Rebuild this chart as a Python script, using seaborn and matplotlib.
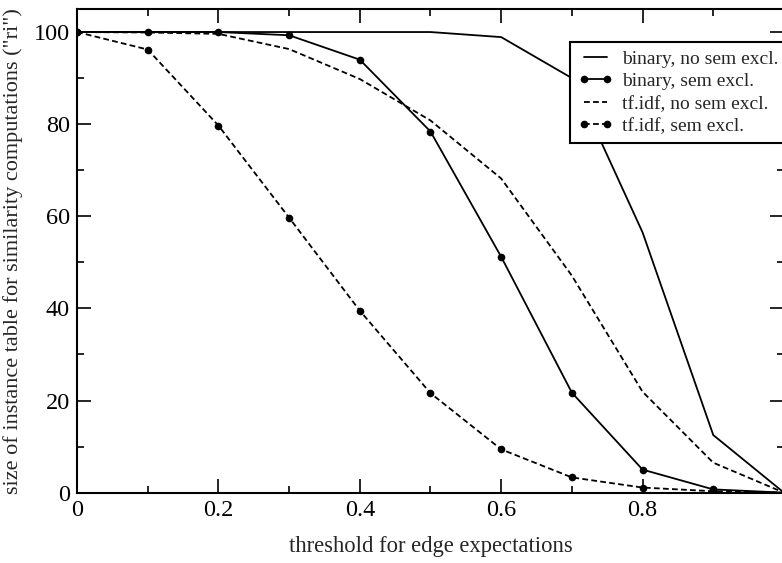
import numpy as np
import pandas as pd
import matplotlib
matplotlib.use("Agg")
import matplotlib.pyplot as plt
from matplotlib.ticker import MultipleLocator
import seaborn as sns

thresholds = [0.0, 0.1, 0.2, 0.3, 0.4, 0.5, 0.6, 0.7, 0.8, 0.9, 1.0]
binary_no_sem = [100, 100, 100, 100, 100, 100, 98.9, 90.0, 56.5, 12.5, 0.0]
binary_sem = [100, 100, 100, 99.3, 94.0, 78.4, 51.2, 21.7, 5.0, 0.7, 0.0]
tfidf_no_sem = [100, 99.9, 99.6, 96.3, 89.8, 80.8, 68.2, 47.1, 21.9, 6.5, 0.0]
tfidf_sem = [100, 96.2, 79.7, 59.7, 39.5, 21.6, 9.4, 3.3, 1.1, 0.3, 0.0]
labels = ["binary, no sem excl.", "binary, sem excl.",
          "tf.idf, no sem excl.", "tf.idf, sem excl."]

sns.set_theme(style="ticks")
plt.rcParams["font.family"] = ["Liberation Serif", "DejaVu Serif"]

fig = plt.figure(figsize=(7.82, 5.63), dpi=100)
ax = fig.add_axes([0.0985, 0.125, 0.904, 0.859])

series = [binary_no_sem, binary_sem, tfidf_no_sem, tfidf_sem]
styles = [("-", None), ("-", "o"), ((0, (3.2, 1.8)), None), ((0, (3.2, 1.8)), "o")]
for lab, vals, (ls, mk) in zip(labels, series, styles):
    df = pd.DataFrame({"x": thresholds, "y": vals})
    sns.lineplot(data=df, x="x", y="y", ax=ax, color="black", linewidth=1.3,
                 linestyle=ls, marker=mk, markersize=5.5, markeredgewidth=0,
                 label=lab, legend=False, errorbar=None)

ax.set_xlim(0, 1.0)
ax.set_ylim(0, 105)
ax.xaxis.set_minor_locator(MultipleLocator(0.1))
ax.yaxis.set_minor_locator(MultipleLocator(10))
ax.set_xticks([0, 0.2, 0.4, 0.6, 0.8])
ax.set_xticklabels(["0", "0.2", "0.4", "0.6", "0.8"])
ax.set_yticks([0, 20, 40, 60, 80, 100])
ax.set_yticklabels(["0", "20", "40", "60", "80", "100"])
ax.tick_params(which="both", direction="in", top=True, right=True,
               width=1.2, colors="black", labelsize=17.5)
ax.tick_params(which="major", length=10, pad=5)
ax.tick_params(which="minor", length=5)
for s in ax.spines.values():
    s.set_linewidth(1.5)
    s.set_color("black")

ax.set_xlabel("threshold for edge expectations", fontsize=16.3, labelpad=11)
ax.set_ylabel('size of instance table for similarity computations ("ri")',
              fontsize=16.0, labelpad=8)

leg = ax.legend(loc="upper left", bbox_to_anchor=(0.698, 0.931), fontsize=14.0,
                frameon=True, fancybox=False, edgecolor="black",
                framealpha=1, handlelength=1.8, handletextpad=0.45,
                borderpad=0.4, labelspacing=0.25, borderaxespad=0,
                numpoints=2)
leg.get_frame().set_linewidth(1.5)

fig.savefig("out.png", dpi=100)
